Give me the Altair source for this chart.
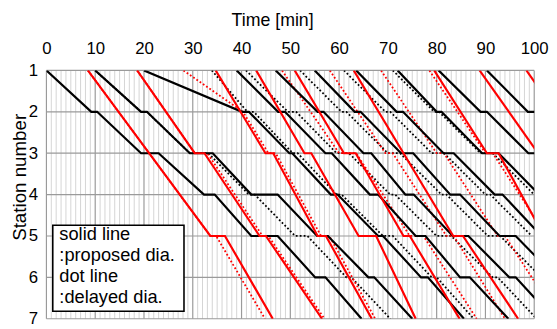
import altair as alt
import pandas as pd

# ---------------- data ----------------
time_ticks = list(range(0, 101, 10))
minor_ticks = [m for m in range(0, 101) if m % 10]
stations = [1, 2, 3, 4, 5, 6, 7]

# proposed diagram (solid): stops as (station, arrive, depart)
solid_black = {
    "B0": [(1, None, 0), (2, 9.2, 10.4), (3, 19.4, 23), (4, 32.3, 34.5), (5, 42, 47.4), (6, 55.1, 57.2), (7, 64.6, None)],
    "B1": [(1, None, 10), (2, 19.4, 20.6), (3, 29.4, 34.1), (4, 42, 47.4), (5, 55.5, 57.7), (6, 66, 67.2), (7, 75, None)],
    "B2": [(1, None, 20), (2, 40.1, 41.5), (3, 49.8, 50.4), (4, 58.3, 59.7), (5, 68, 69), (6, 76.8, 78.2), (7, 85.6, None)],
    "B3": [(1, None, 39), (2, 47.5, 48.9), (3, 57.2, 58.5), (4, 66.3, 68), (5, 75.7, 77.7), (6, 84.8, 86.8), (7, 94.7, None)],
    "B4": [(1, None, 47), (2, 55.6, 56.8), (3, 65, 66.6), (4, 73.6, 75.3), (5, 83.3, 86.5), (6, 94.9, 96.2), (7, 104, None)],
    "B5": [(1, None, 55), (2, 63.2, 64.4), (3, 72.7, 75.2), (4, 82.8, 84.8), (5, 92.9, 96.2), (6, 104.5, None)],
    "B6": [(1, None, 63.5), (2, 71.8, 73.1), (3, 81.4, 83.5), (4, 91.9, 93.5), (5, 101.5, None)],
    "B7": [(1, None, 72), (2, 80, 81), (3, 89.3, 92.7), (4, 101, None)],
    "B8": [(1, None, 80.4), (2, 89, 90.3), (3, 98.8, 101)],
    "B9": [(1, None, 90.3), (2, 98.7, 100.5)],
}
solid_red = {
    "R1": [(1, None, 8.5), (5, 33.6, 36.6), (7, 46.4, None)],
    "R2": [(1, None, 18.6), (3, 30.4, 32.4), (5, 43.7, 45), (7, 56.5, None)],
    "R3": [(1, None, 34.7), (3, 44.9, 46.5), (5, 55.6, 57.3), (7, 66.7, None)],
    "R4": [(1, None, 43), (3, 52.9, 54.3), (5, 64, 67.6), (7, 75.7, None)],
    "R5": [(1, None, 50.9), (3, 61, 63.4), (5, 73.2, 74.5), (7, 84.7, None)],
    "R6": [(1, None, 63), (5, 83.4, 85.4), (7, 96.7, None)],
    "R7": [(1, None, 79.5), (3, 90.3, 92.7), (5, 102, None)],
    "R8": [(1, None, 88.8), (3, 100.8, None)],
    "R9": [(1, None, 98.4), (2, 104.4, None)],
}
# delayed diagram (dotted)
dotted_black = {
    "DB1": [(1, None, 10), (2, 19.4, 20.6), (3, 29.4, 33.2), (4, 41.5, 42.7), (5, 51, 53.5), (6, 61.5, 62.5), (7, 70.5, None)],
    "DB3": [(1, None, 33.9), (2, 41.2, 42.5), (3, 50.5, 51.5), (4, 59.5, 60.5), (5, 69, 71), (6, 79, 80), (7, 87.6, None)],
    "DB4": [(1, None, 40.9), (2, 49.5, 51.2), (3, 59.5, 62), (4, 70.5, 71.5), (5, 80, 83), (6, 91.5, 92.5), (7, 100.5, None)],
    "DB5": [(1, None, 52), (2, 60.5, 61.5), (3, 70, 72.5), (4, 81, 82), (5, 90.5, 93), (6, 101.5, None)],
    "DB6": [(1, None, 61), (2, 69.5, 70.5), (3, 79, 81.5), (4, 90, 91), (5, 99.5, None)],
    "DB7": [(1, None, 71), (2, 79.5, 80.5), (3, 89, 91.5), (4, 100, None)],
}
dotted_red = {
    "DR1": [(1, None, 8.5), (5, 33.6, 34.8), (7, 44.8, None)],
    "DR2": [(1, None, 18.6), (3, 30.4, 33), (5, 44.3, 45.5), (7, 57, None)],
    "DR3": [(1, None, 28.1), (2, 40.3, None), (3, 45.5, 47), (5, 56.3, 58), (7, 67.4, None)],
    "DR5": [(1, None, 48.3), (3, 60, 63.5), (5, 74.5, 77.3), (7, 88.2, None)],
    "DR6": [(1, None, 58.1), (3, 69.5, 71), (5, 82, 83.5), (7, 94, None)],
    "DR7": [(1, None, 68.6), (3, 80, 81.5), (5, 92.5, 94), (7, 105, None)],
    "DR8": [(1, None, 78.5), (3, 90, 91.5), (5, 102.5, None)],
}

legend_lines = ["solid line", ":proposed dia.", "dot line", ":delayed dia."]
legend_line_st = [5.095, 5.61, 6.11, 6.62]
legend_box_t = (1.3, 28.2)
legend_box_st = (4.74, 6.82)
legend_text_t = 2.65


def to_rows(trains):
    rows = []
    for name, stops in trains.items():
        k = 0
        for st, arr, dep in stops:
            for t in (arr, dep):
                if t is not None:
                    rows.append({"train": name, "t": t, "st": st, "k": k})
                    k += 1
    return pd.DataFrame(rows)


FONT = "Liberation Sans"
xscale = alt.Scale(domain=[0, 100], nice=False, zero=False)
yscale = alt.Scale(domain=[1, 7], reverse=True, nice=False, zero=False)
xaxis = alt.Axis(orient="top", values=time_ticks, title="Time [min]",
                 grid=False, ticks=False, domain=False,
                 labelFontSize=17, labelFont=FONT, labelColor="black",
                 labelPadding=13, labelFlush=False,
                 titleFontSize=18, titleFont=FONT, titleFontWeight="normal",
                 titleColor="black", titleX=229, titleY=-51, titleBaseline="middle")
yaxis = alt.Axis(values=stations, title="Station number", format="d",
                 grid=False, ticks=False, domain=False,
                 labelFontSize=17, labelFont=FONT, labelColor="black",
                 labelPadding=9, labelFlush=False,
                 titleFontSize=19, titleFont=FONT, titleFontWeight="normal",
                 titleColor="black", titleX=-27, titleY=108,
                 titleAngle=-90, titleBaseline="middle", titleAlign="center")


def X(field="t"):
    return alt.X(f"{field}:Q", scale=xscale, axis=xaxis, title="Time [min]")


def Y(field="st"):
    return alt.Y(f"{field}:Q", scale=yscale, axis=yaxis, title="Station number")


minor = alt.Chart(pd.DataFrame({"t": minor_ticks})).mark_rule(
    color="#d4d4d4", strokeWidth=1).encode(x=X())
major = alt.Chart(pd.DataFrame({"t": time_ticks})).mark_rule(
    color="#9a9a9a", strokeWidth=1.2).encode(x=X())
hlines = alt.Chart(pd.DataFrame({"st": stations})).mark_rule(
    color="#9a9a9a", strokeWidth=1.2).encode(y=Y())


def lines(trains, color, dotted):
    df = to_rows(trains)
    if dotted:
        m = alt.Chart(df).mark_line(color=color, strokeWidth=1.8, strokeDash=[1.8, 2.2], clip=True)
    else:
        m = alt.Chart(df).mark_line(color=color, strokeWidth=2.2, clip=True)
    return m.encode(x=X(), y=Y(), detail="train:N", order="k:Q")


legend_box = alt.Chart(pd.DataFrame({
    "t": [legend_box_t[0]], "t2": [legend_box_t[1]],
    "st": [legend_box_st[0]], "st2": [legend_box_st[1]]})).mark_rect(
    fill="white", stroke="black", strokeWidth=1.6).encode(
    x=X(), x2="t2:Q", y=Y(), y2="st2:Q")
legend_text = alt.Chart(pd.DataFrame({
    "txt": legend_lines, "st": legend_line_st,
    "t": [legend_text_t] * 4})).mark_text(
    align="left", baseline="alphabetic", font=FONT, fontSize=18.5, color="black").encode(
    x=X(), y=Y(), text="txt:N")

chart = alt.layer(
    minor, major, hlines,
    lines(dotted_black, "#000000", True), lines(dotted_red, "#ff0000", True),
    lines(solid_black, "#000000", False), lines(solid_red, "#ff0000", False),
    legend_box, legend_text,
).properties(
    width=495, height=252,
    autosize=alt.AutoSizeParams(type="none"),
    padding={"left": 39, "top": 61, "right": 15, "bottom": 6},
).configure_view(stroke=None)

chart.save("out.html", embed_options={"renderer": "svg", "actions": False})
